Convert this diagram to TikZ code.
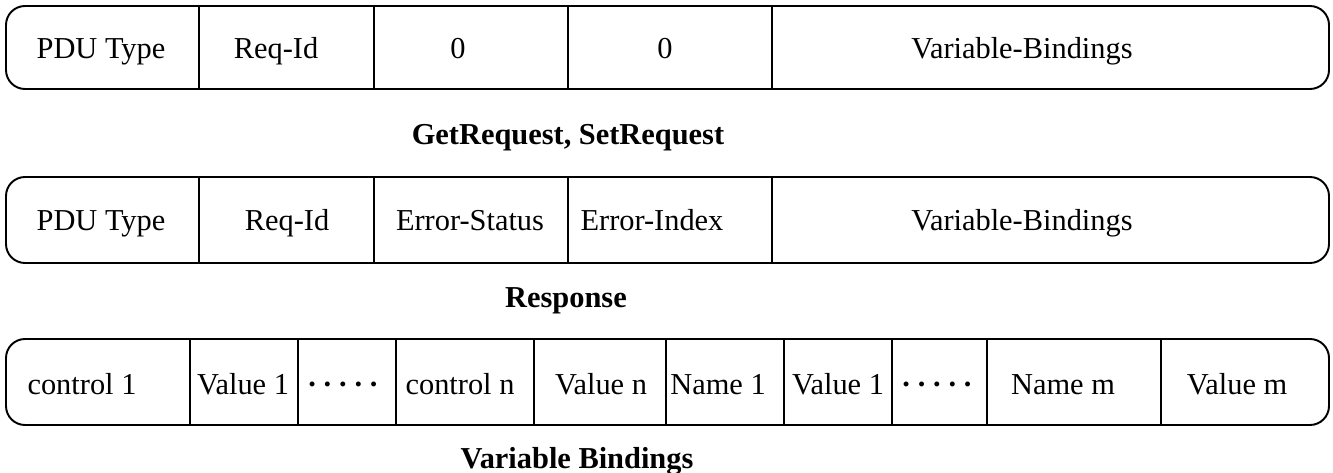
\documentclass[tikz,border=0pt]{standalone}
\usepackage{fontspec}
\setmainfont{Liberation Serif}
\usetikzlibrary{positioning}

\tikzset{
  frame/.style={line width=1.1pt,rounded corners=0.38cm},
  sep/.style={line width=1pt},
  field/.style={anchor=base,inner sep=0pt,font=\fontsize{17.3}{20}\selectfont},
  caption/.style={field,font=\fontsize{17.3}{20}\selectfont\bfseries}
}
\newcommand{\fivedots}{\textbf{·}\kern3pt\textbf{·}\kern3pt\textbf{·}\kern3pt\textbf{·}\kern3pt\textbf{·}}

\begin{document}
\begin{tikzpicture}[x=0.02cm,y=-0.02cm]
\useasboundingbox (0,0) rectangle (1333,473);

% GetRequest / SetRequest
\draw[frame] (6,6) rectangle (1329,89);
\foreach \x in {199,374,568,772} \draw[sep] (\x,6) -- (\x,89);
\node[field] (gpdu)   at (101,59)  {PDU Type};
\node[field] (greq)   at (276,59)  {Req-Id};
\node[field] (gzeroa) at (458,59)  {0};
\node[field] (gzerob) at (665,59)  {0};
\node[field] (gvb)    at (1022,59) {Variable-Bindings};
\node[caption] (getcap) at (568,145) {GetRequest, SetRequest};

% Response
\draw[frame] (6,177) rectangle (1329,263);
\foreach \x in {199,374,568,772} \draw[sep] (\x,177) -- (\x,263);
\node[field] (rpdu)  at (101,231)  {PDU Type};
\node[field] (rreq)  at (287,231)  {Req-Id};
\node[field] (rstat) at (470,231)  {Error-Status};
\node[field] (ridx)  at (652,231)  {Error-Index};
\node[field] (rvb)   at (1022,231) {Variable-Bindings};
\node[caption] (respcap) at (566,307) {Response};

% Variable bindings
\draw[frame] (6,339) rectangle (1329,425);
\foreach \x in {190,298,396,534,666,784,892,987,1161} \draw[sep] (\x,339) -- (\x,425);
\node[field] (ctla)  at (82,394)   {control 1};
\node[field] (vala)  at (243,394)  {Value 1};
\node[field] (dotsa) at (343,394)  {\fivedots};
\node[field] (ctln)  at (460,394)  {control n};
\node[field] (valn)  at (601,394)  {Value n};
\node[field] (namea) at (718,394)  {Name 1};
\node[field] (valb)  at (838,394)  {Value 1};
\node[field] (dotsb) at (937,394)  {\fivedots};
\node[field] (namem) at (1063,394) {Name m};
\node[field] (valm)  at (1237,394) {Value m};
\node[caption] (vbcap) at (577,468) {Variable Bindings};
\end{tikzpicture}
\end{document}
